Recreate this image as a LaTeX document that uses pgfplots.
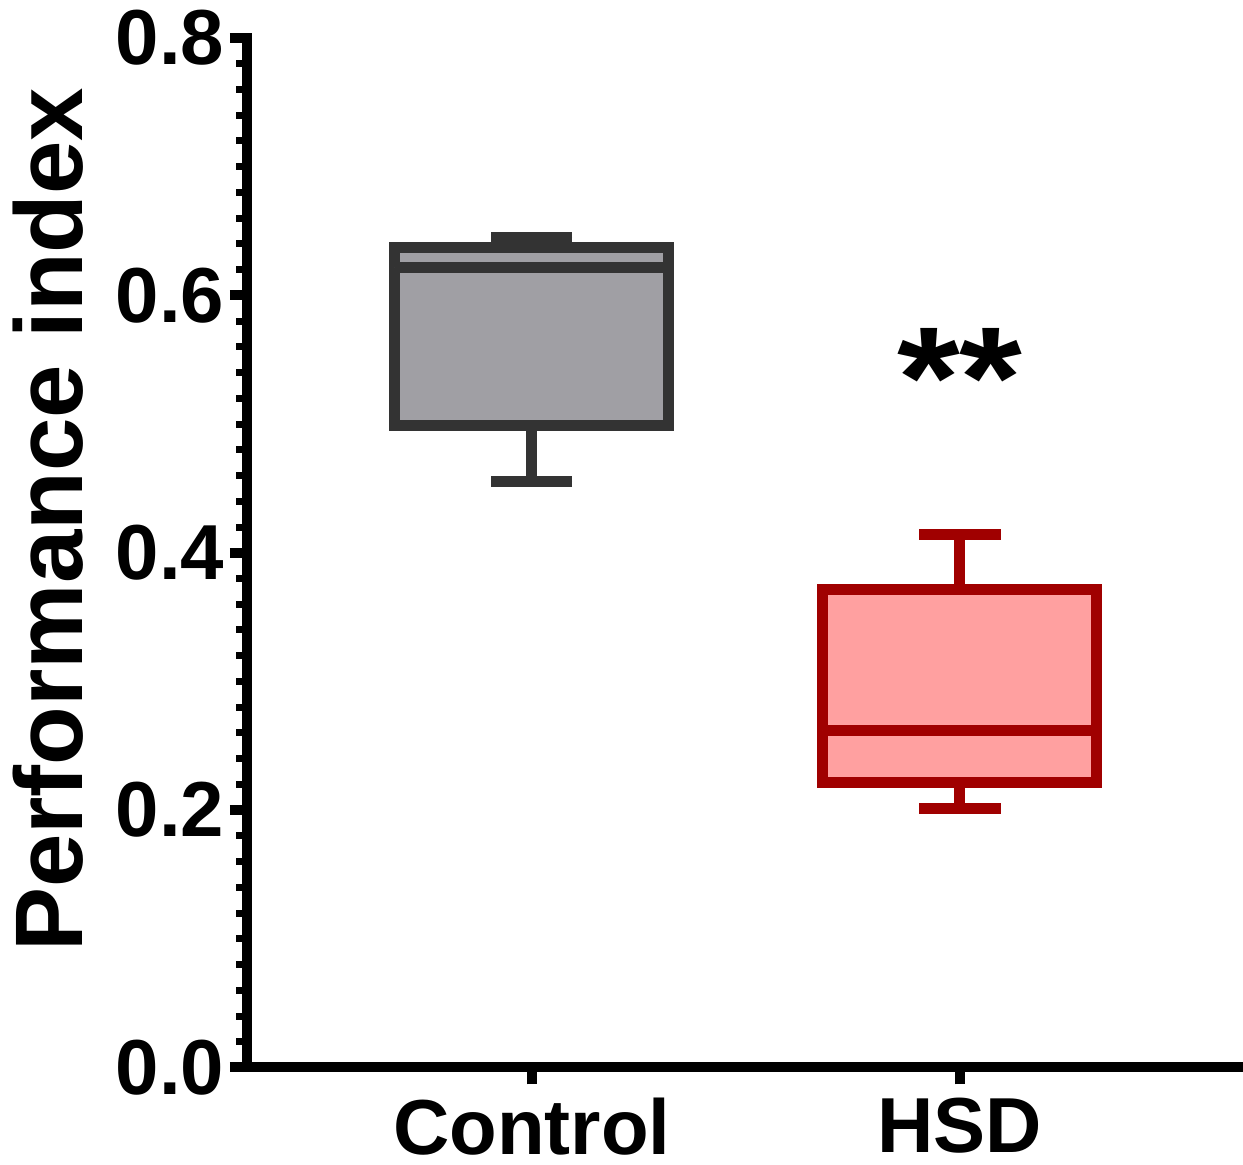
\documentclass[border=0pt]{standalone}
\usepackage{fontspec}
\setmainfont{Liberation Sans}
\usepackage{pgfplots}
\pgfplotsset{compat=1.18}
\usepgfplotslibrary{statistics}
\definecolor{ctrlfill}{HTML}{A09FA4}
\definecolor{ctrledge}{HTML}{333333}
\definecolor{hsdfill}{HTML}{FFA0A0}
\definecolor{hsdedge}{HTML}{A00000}
\begin{document}
\begin{tikzpicture}
\begin{axis}[name=ax, scale only axis, width=249pt, height=257.375pt,
  xmin=0.335, xmax=2.661, ymin=0, ymax=0.8,
  axis lines*=left,
  axis line style={line width=2.5pt, line cap=rect},
  xtick={1,2}, xticklabels={Control,HSD},
  ytick={0,0.2,0.4,0.6,0.8}, minor y tick num=9,
  yticklabel style={/pgf/number format/fixed, /pgf/number format/fixed zerofill, /pgf/number format/precision=1},
  /pgf/number format/assume math mode=true,
  tick align=outside,
  major tick length=4.25pt, minor tick length=2.7pt,
  major tick style={line width=2.5pt, black},
  minor tick style={line width=1.75pt, black},
  every tick label/.append style={font=\fontsize{19.5}{20}\selectfont\bfseries, inner sep=0pt},
  xticklabel style={anchor=north, yshift=-3.1pt},
  yticklabel style={anchor=east, xshift=-1.25pt},
  ylabel={Performance index},
  ylabel style={font=\fontsize{24}{24}\selectfont\bfseries, at={(rel axis cs:-0.1647,0.532)}, anchor=base, rotate=0},
  boxplot/draw direction=y,
  clip=false,
]
\addplot[boxplot prepared={draw position=1, lower whisker=0.4557, lower quartile=0.4992, median=0.6216, upper quartile=0.6375, upper whisker=0.6453, box extend=0.64, whisker extend=0.19}, draw=ctrledge, fill=ctrlfill, line width=2.75pt, line join=miter, solid, mark=none] coordinates {};
\addplot[boxplot prepared={draw position=2, lower whisker=0.2009, lower quartile=0.2211, median=0.2622, upper quartile=0.3714, upper whisker=0.4141, box extend=0.64, whisker extend=0.19}, draw=hsdedge, fill=hsdfill, line width=2.75pt, line join=miter, solid, mark=none] coordinates {};
\node[font=\fontsize{36}{36}\selectfont\bfseries, xscale=1.12] at (axis cs:2,0.536) {**};
\end{axis}
\pgfresetboundingbox
\path ([xshift=-61.75pt,yshift=-24.375pt]ax.south west) rectangle ([yshift=9.5pt]ax.north east);
\end{tikzpicture}
\end{document}
